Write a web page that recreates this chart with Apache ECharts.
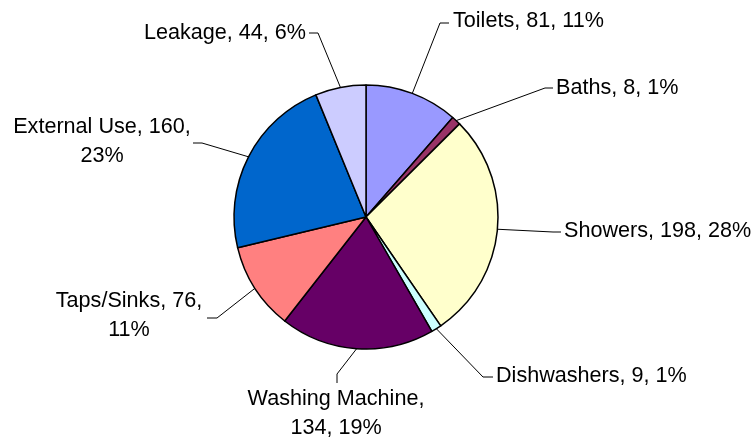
<!DOCTYPE html>
<html>
<head>
<meta charset="utf-8">
<script src="https://cdn.jsdelivr.net/npm/echarts@6/dist/echarts.min.js"></script>
<style>
  html, body { margin: 0; padding: 0; background: #fff; }
  #chart { width: 753px; height: 439px; }
</style>
</head>
<body>
<div id="chart"></div>
<script>
// Household water use by end use
const categories = ['Toilets', 'Baths', 'Showers', 'Dishwashers', 'Washing Machine', 'Taps/Sinks', 'External Use', 'Leakage'];
const values = [81, 8, 198, 9, 134, 76, 160, 44];
const colors = ['#9999FF', '#993366', '#FFFFCC', '#CCFFFF', '#660066', '#FF8080', '#0066CC', '#CCCCFF'];
// Labels that wrap after the value, and the one that wraps before it
const breakAfterValue = ['Taps/Sinks', 'External Use'];
const breakBeforeValue = ['Washing Machine'];

// Label anchor and leader-line elbow/end per slice
const labelPlacement = {
  'Toilets':         { x: 453, y: 21,  align: 'left',   elbow: [440, 23],  end: [449, 23] },
  'Baths':           { x: 556, y: 88,  align: 'left',   elbow: [545, 88],  end: [553, 88] },
  'Showers':         { x: 564, y: 231, align: 'left',   elbow: [553, 232], end: [561, 232] },
  'Dishwashers':     { x: 496, y: 376, align: 'left',   elbow: [483, 377], end: [493, 377] },
  'Washing Machine': { x: 336, y: 414, align: 'center', elbow: [337, 374], end: [337, 383] },
  'Taps/Sinks':      { x: 129, y: 316, align: 'center', elbow: [217, 318], end: [207, 318] },
  'External Use':    { x: 102, y: 142, align: 'center', elbow: [202, 143], end: [193, 143] },
  'Leakage':         { x: 306, y: 33,  align: 'right',  elbow: [318, 33],  end: [309, 33] }
};

const CX = 366, CY = 217, R = 132;
const total = values.reduce((a, b) => a + b, 0);

function edgePoint(idx) {
  let before = 0;
  for (let i = 0; i < idx; i++) before += values[i];
  const mid = (before + values[idx] / 2) / total * Math.PI * 2;
  return [CX + R * Math.sin(mid), CY - R * Math.cos(mid)];
}

const chart = echarts.init(document.getElementById('chart'), null, { renderer: 'canvas' });

chart.setOption({
  animation: false,
  backgroundColor: '#ffffff',
  series: [{
    type: 'pie',
    center: [CX, CY],
    radius: R,
    startAngle: 90,
    clockwise: true,
    percentPrecision: 0,
    avoidLabelOverlap: false,
    emphasis: { disabled: true },
    data: categories.map((name, i) => ({
      name: name,
      value: values[i],
      itemStyle: { color: colors[i] }
    })),
    itemStyle: { borderColor: '#000000', borderWidth: 1.5 },
    label: {
      show: true,
      position: 'outside',
      fontFamily: '"Liberation Sans", Arial, sans-serif',
      fontSize: 21.6,
      lineHeight: 29,
      color: '#000000',
      formatter: function (p) {
        if (breakBeforeValue.indexOf(p.name) >= 0) {
          return p.name + ',\n' + p.value + ', ' + p.percent + '%';
        }
        if (breakAfterValue.indexOf(p.name) >= 0) {
          return p.name + ', ' + p.value + ',\n' + p.percent + '%';
        }
        return p.name + ', ' + p.value + ', ' + p.percent + '%';
      }
    },
    labelLine: {
      show: true,
      smooth: false,
      lineStyle: { color: '#000000', width: 1 }
    },
    labelLayout: function (params) {
      const name = categories[params.dataIndex];
      const pl = labelPlacement[name];
      const start = (params.labelLinePoints && params.labelLinePoints[0])
        ? params.labelLinePoints[0].slice()
        : edgePoint(params.dataIndex);
      return {
        x: pl.x,
        y: pl.y,
        align: pl.align,
        verticalAlign: 'middle',
        labelLinePoints: [start, pl.elbow, pl.end]
      };
    }
  }]
});
</script>
</body>
</html>
